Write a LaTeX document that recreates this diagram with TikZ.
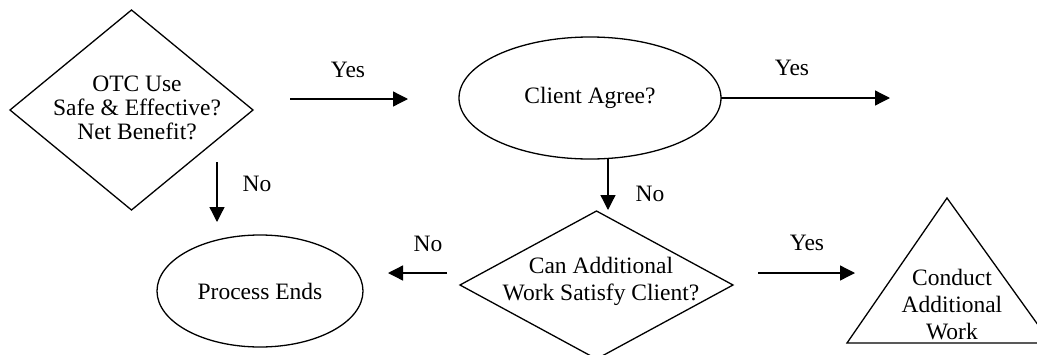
\documentclass[tikz,border=0pt]{standalone}
\usepackage{fontspec}
\setmainfont{Liberation Serif}
\usetikzlibrary{shapes.geometric,arrows.meta}
\begin{document}
\begin{tikzpicture}[x=1pt,y=-1pt,
  every node/.style={font=\fontsize{23.5}{25}\selectfont},
  outline/.style={draw, line width=1.3pt, inner sep=0pt, outer sep=0pt},
  decision/.style n args={2}{outline, diamond, minimum width=#1, minimum height=#2},
  terminal/.style n args={2}{outline, ellipse, minimum width=#1, minimum height=#2},
  caption/.style={align=center, inner sep=0pt},
  flow/.style={line width=1.3pt, -{Triangle[length=15pt,width=15pt]}}]
\useasboundingbox (0,0) rectangle (1037,354);

% decision: OTC use
\node[decision={243pt}{200pt}] (otc) at (131.5,110) {};
\node[caption, font=\fontsize{23.5}{24}\selectfont] (otctext) at (137,108)
  {OTC Use\\Safe \& Effective?\\Net Benefit?};

% client agreement
\node[terminal={262pt}{122pt}] (agree) at (590,98) {Client Agree?};

% end of process
\node[terminal={206pt}{112pt}] (ends) at (260,291) {Process Ends};

% decision: additional work
\node[decision={273pt}{148pt}] (extra) at (596.5,285) {};
\node[caption, font=\fontsize{23.5}{27}\selectfont] (extratext) at (601,281)
  {Can Additional\\Work Satisfy Client?};

% action: additional work
\coordinate (tA) at (947,198);
\coordinate (tL) at (847,343);
\coordinate (tR) at (1051,343);
\draw[outline] (tA) -- (tL) -- (tR) -- cycle;
\node[caption, font=\fontsize{23.5}{27}\selectfont] (work) at (952,305)
  {Conduct\\Additional\\Work};

% connector end points
\coordinate (y1s) at (290,99);
\coordinate (y1e) at (408,99);
\coordinate (y2e) at (890,98);
\coordinate (n1s) at (217,162);
\coordinate (n1e) at (217,222);
\coordinate (n2s) at (608,158);
\coordinate (n2e) at (608,210);
\coordinate (n3s) at (447,273);
\coordinate (n3e) at (388,273);
\coordinate (y3s) at (758,273);
\coordinate (y3e) at (855,273);

% connectors
\draw[flow] (y1s) -- (y1e);
\draw[flow] (agree.east) -- (y2e);
\draw[flow] (n1s) -- (n1e);
\draw[flow] (n2s) -- (n2e);
\draw[flow] (n3s) -- (n3e);
\draw[flow] (y3s) -- (y3e);

% connector labels
\node[caption] (ly1) at (348,70) {Yes};
\node[caption] (ly2) at (792,68) {Yes};
\node[caption] (ln1) at (257,184) {No};
\node[caption] (ln2) at (650,194) {No};
\node[caption] (ln3) at (428,244) {No};
\node[caption] (ly3) at (807,243) {Yes};
\end{tikzpicture}
\end{document}
